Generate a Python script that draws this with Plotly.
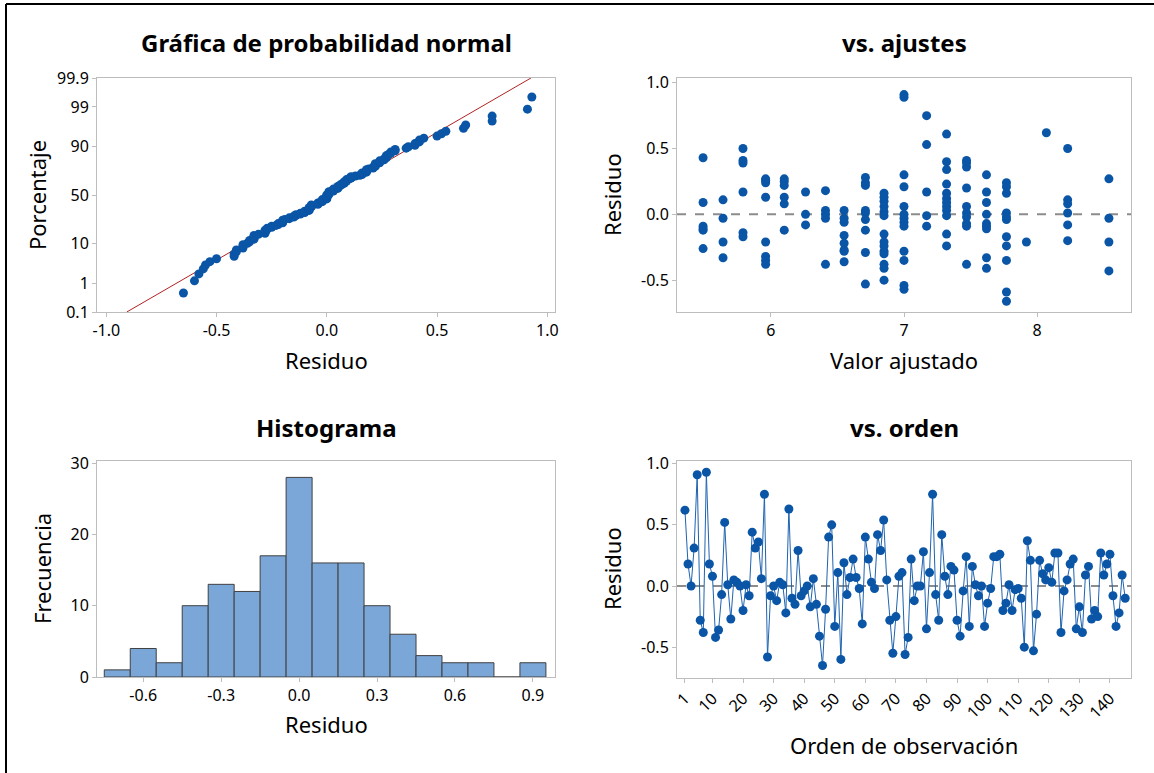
import plotly.graph_objects as go
from statistics import NormalDist, mean, stdev

# ---------------- data ----------------
# residuals in observation order (vs. orden)
residuals = [
    0.62, 0.18, 0.00, 0.31, 0.91, -0.28, -0.38, 0.93, 0.18, 0.08,
    -0.42, -0.36, -0.07, 0.52, 0.01, -0.27, 0.05, 0.03, 0.00, -0.20,
    0.01, -0.08, 0.44, 0.31, 0.36, 0.06, 0.75, -0.58, -0.08, 0.00,
    -0.12, 0.03, 0.01, -0.22, 0.63, -0.10, -0.15, 0.29, -0.08, -0.04,
    0.00, -0.17, 0.06, -0.15, -0.41, -0.65, -0.19, 0.40, 0.50, -0.33,
    0.11, -0.60, 0.19, -0.07, 0.07, 0.22, 0.07, -0.02, -0.31, 0.40,
    0.22, 0.03, -0.02, 0.42, 0.29, 0.54, 0.05, -0.28, -0.55, -0.25,
    0.08, 0.11, -0.56, -0.42, 0.22, -0.12, 0.00, 0.00, 0.28, -0.35,
    0.11, 0.75, -0.07, -0.28, 0.42, 0.08, -0.07, 0.16, 0.13, -0.28,
    -0.41, -0.04, 0.24, -0.33, 0.16, 0.01, -0.08, 0.00, -0.33, -0.14,
    -0.02, 0.24, 0.24, 0.26, -0.20, -0.14, 0.01, -0.20, -0.03, -0.02,
    -0.10, -0.50, 0.37, 0.21, -0.53, -0.23, 0.21, 0.10, 0.05, 0.15,
    0.03, 0.27, 0.27, -0.38, -0.04, 0.05, 0.18, 0.22, -0.35, -0.17,
    -0.38, 0.09, 0.16, -0.27, -0.20, -0.25, 0.27, 0.09, 0.18, 0.26,
    -0.08, -0.33, -0.22, 0.09, -0.10,
]
order = list(range(1, len(residuals) + 1))

# residuals vs. fitted values (vs. ajustes)
fit_levels = [5.49, 5.64, 5.79, 5.96, 6.10, 6.26, 6.41, 6.55, 6.71, 6.85,
              7.00, 7.17, 7.32, 7.47, 7.62, 7.77, 7.92, 8.07, 8.23, 8.54]
fit_resids = [
    [0.43, 0.09, -0.09, -0.11, -0.12, -0.26],
    [0.11, -0.03, -0.21, -0.33],
    [0.50, 0.41, 0.39, 0.17, -0.14, -0.17],
    [0.27, 0.26, 0.24, 0.13, -0.21, -0.32, -0.35, -0.38],
    [0.27, 0.25, 0.22, 0.13, 0.08, -0.12],
    [0.17, 0.00, -0.08],
    [0.18, 0.03, 0.00, -0.03, -0.38],
    [0.03, -0.03, -0.06, -0.16, -0.22, -0.27, -0.28, -0.36],
    [0.28, 0.24, 0.22, 0.03, 0.01, -0.04, -0.12, -0.29, -0.53],
    [0.16, 0.13, 0.10, 0.06, 0.02, -0.01, -0.15, -0.21, -0.24, -0.28,
     -0.30, -0.38, -0.41, -0.50],
    [0.91, 0.89, 0.30, 0.21, 0.06, 0.00, -0.03, -0.06, -0.09, -0.28,
     -0.35, -0.54, -0.57],
    [0.75, 0.53, 0.17, -0.01, -0.09],
    [0.61, 0.40, 0.34, 0.23, 0.16, 0.12, 0.09, 0.06, 0.03, -0.01, -0.15, -0.24],
    [0.41, 0.39, 0.36, 0.20, 0.06, 0.01, -0.02, -0.07, -0.09, -0.38],
    [0.30, 0.17, 0.09, 0.00, -0.07, -0.09, -0.11, -0.33, -0.41],
    [0.24, 0.21, 0.16, 0.01, -0.02, -0.04, -0.17, -0.24, -0.35, -0.59, -0.66],
    [-0.21],
    [0.62],
    [0.50, 0.11, 0.08, 0.01, -0.08, -0.20],
    [0.27, -0.03, -0.21, -0.43],
]

# histogram (bin centers and frequencies)
hist_centers = [-0.7, -0.6, -0.5, -0.4, -0.3, -0.2, -0.1, 0.0, 0.1, 0.2,
                0.3, 0.4, 0.5, 0.6, 0.7, 0.8, 0.9]
hist_counts = [1, 4, 2, 10, 13, 12, 17, 28, 16, 16, 10, 6, 3, 2, 2, 0, 2]

# tick labels
prob_ticks = [0.1, 1, 10, 50, 90, 99, 99.9]
prob_ticktext = ["0.1", "1", "10", "50", "90", "99", "99.9"]
resid_ticks_a = [-1.0, -0.5, 0.0, 0.5, 1.0]
resid_ticktext_a = ["-1.0", "-0.5", "0.0", "0.5", "1.0"]
hist_xticks = [-0.6, -0.3, 0.0, 0.3, 0.6, 0.9]
hist_xticktext = ["-0.6", "-0.3", "0.0", "0.3", "0.6", "0.9"]
resid_ticks_b = [-0.5, 0.0, 0.5, 1.0]
resid_ticktext_b = ["-0.5", "0.0", "0.5", "1.0"]
order_ticks = [1, 10, 20, 30, 40, 50, 60, 70, 80, 90, 100, 110, 120, 130, 140]

# ---------------- styling ----------------
W, H = 1154, 773
BLUE = "#0a55a6"
FONT = "Noto Sans"
FRAME = "#bdbdbd"


def px(x):
    return x / W


def py(y):
    return 1 - y / H


nd = NormalDist()
n = len(residuals)
sorted_res = sorted(residuals)
zvals = [nd.inv_cdf((i - 0.3) / (n + 0.4)) for i in range(1, n + 1)]
m, s = mean(residuals), stdev(residuals)
zlo, zhi = nd.inv_cdf(0.001), nd.inv_cdf(0.999)

fig = go.Figure()

# normal probability plot
fig.add_trace(go.Scatter(x=[m + zlo * s, m + zhi * s], y=[zlo, zhi], mode="lines",
                         line=dict(color="#b22222", width=1), xaxis="x", yaxis="y",
                         hoverinfo="skip"))
fig.add_trace(go.Scatter(x=sorted_res, y=zvals, mode="markers",
                         marker=dict(color=BLUE, size=9), xaxis="x", yaxis="y"))

# versus fits
fx, fy = [], []
for lvl, rs in zip(fit_levels, fit_resids):
    for r in rs:
        fx.append(lvl)
        fy.append(r)
fig.add_trace(go.Scatter(x=fx, y=fy, mode="markers",
                         marker=dict(color=BLUE, size=9), xaxis="x2", yaxis="y2"))

# histogram
fig.add_trace(go.Bar(x=hist_centers, y=hist_counts, width=0.1,
                     marker=dict(color="#7ba6d8", line=dict(color="#404040", width=1)),
                     xaxis="x3", yaxis="y3"))

# versus order
fig.add_trace(go.Scatter(x=order, y=residuals, mode="lines+markers",
                         line=dict(color="#1f63b0", width=1),
                         marker=dict(color=BLUE, size=9), xaxis="x4", yaxis="y4"))

axis_common = dict(showline=True, mirror=True, linecolor=FRAME, linewidth=1,
                   ticks="outside", ticklen=4, tickcolor=FRAME, showgrid=False,
                   zeroline=False, automargin=False,
                   tickfont=dict(family=FONT, size=16, color="#000"))

fig.update_layout(
    width=W, height=H, margin=dict(l=0, r=0, t=0, b=0, pad=0, autoexpand=False),
    paper_bgcolor="white", plot_bgcolor="white", showlegend=False,
    font=dict(family=FONT, color="#000"),
    xaxis=dict(domain=[px(97), px(555)], range=[-1.042, 1.035], anchor="y",
               tickvals=resid_ticks_a, ticktext=resid_ticktext_a, **axis_common),
    yaxis=dict(domain=[py(312), py(78)], range=[zlo, zhi], anchor="x",
               tickvals=[nd.inv_cdf(p / 100) for p in prob_ticks],
               ticktext=prob_ticktext, **axis_common),
    xaxis2=dict(domain=[px(677), px(1131)], range=[5.294, 8.706], anchor="y2",
                tickvals=[6, 7, 8], ticktext=["6", "7", "8"], **axis_common),
    yaxis2=dict(domain=[py(312), py(78)], range=[-0.742, 1.036], anchor="x2",
                tickvals=resid_ticks_b, ticktext=resid_ticktext_b, **axis_common),
    xaxis3=dict(domain=[px(97), px(555)], range=[-0.778, 0.985], anchor="y3",
                tickvals=hist_xticks, ticktext=hist_xticktext, **axis_common),
    yaxis3=dict(domain=[py(677), py(461)], range=[0, 30.3], anchor="x3",
                tickvals=[0, 10, 20, 30], **axis_common),
    xaxis4=dict(domain=[px(677), px(1131)], range=[-1.6, 146.9], anchor="y4",
                tickvals=order_ticks, tickangle=-45, **axis_common),
    yaxis4=dict(domain=[py(678), py(461)], range=[-0.752, 1.022], anchor="x4",
                tickvals=resid_ticks_b, ticktext=resid_ticktext_b, **axis_common),
)

# zero reference lines
for xa, ya in (("x2", "y2"), ("x4", "y4")):
    fig.add_shape(type="line", xref=f"{xa} domain", yref=ya, x0=0, x1=1, y0=0, y1=0,
                  line=dict(color="#8c8c8c", width=2, dash="dash"), layer="below")

# outer frame (left and top edges visible)
fig.add_shape(type="line", xref="paper", yref="paper", x0=px(6), x1=px(6), y0=0, y1=py(4),
              line=dict(color="black", width=2))
fig.add_shape(type="line", xref="paper", yref="paper", x0=px(6), x1=1, y0=py(4), y1=py(4),
              line=dict(color="black", width=2))

# titles and axis titles
texts = [
    ("Gráfica de probabilidad normal", 326, 43, 24, True, 0),
    ("vs. ajustes", 904, 43, 24, True, 0),
    ("Histograma", 326, 427, 24, True, 0),
    ("vs. orden", 904, 427, 24, True, 0),
    ("Residuo", 326, 360, 22, False, 0),
    ("Valor ajustado", 904, 360, 22, False, 0),
    ("Residuo", 326, 724, 22, False, 0),
    ("Orden de observación", 904, 745, 22, False, 0),
    ("Porcentaje", 37, 195, 22, False, -90),
    ("Residuo", 612, 195, 22, False, -90),
    ("Frecuencia", 42, 569, 22, False, -90),
    ("Residuo", 612, 569, 22, False, -90),
]
for t, x, y, size, bold, ang in texts:
    fig.add_annotation(text=f"<b>{t}</b>" if bold else t, xref="paper", yref="paper",
                       x=px(x), y=py(y), xanchor="center", yanchor="middle",
                       showarrow=False, textangle=ang,
                       font=dict(family=FONT, size=size, color="#000"))

fig.write_html("out.html", config={"displayModeBar": False},
               post_script="document.body.style.margin='0px';")
